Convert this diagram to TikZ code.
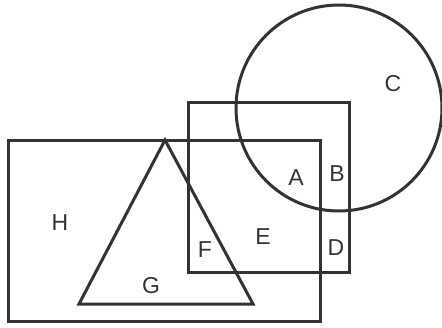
\documentclass[tikz,border=0pt]{standalone}
\usepackage{fontspec}
\setmainfont{Liberation Sans}
\usepackage{tikz}
\usetikzlibrary{positioning,calc}
\definecolor{inkgray}{HTML}{333333}
\tikzset{
  setline/.style={draw=inkgray,line width=3pt,line join=miter},
  setlbl/.style={font=\fontsize{23}{25}\selectfont,text=inkgray,inner sep=0pt},
}

\begin{document}
\begin{tikzpicture}[x=1pt,y=-1pt]
  \useasboundingbox (0,0) rectangle (442,327);
  % the sets
  \draw[setline] (8,140) rectangle (320,321);
  \draw[setline] (188,102) rectangle (349,272);
  \draw[setline] (339,108) circle[radius=103];
  \draw[setline] (165,140) -- (253,304) -- (79,304) -- cycle;
  % region labels
  \node[setlbl] (C) at (393,84) {C};
  \node[setlbl] (A) at (296,178) {A};
  \node[setlbl] (B) at (337,174) {B};
  \node[setlbl] (H) at (60,223) {H};
  \node[setlbl] (E) at (263,237) {E};
  \node[setlbl] (F) at (205,250) {F};
  \node[setlbl] (D) at (336,248) {D};
  \node[setlbl] (G) at (151,286) {G};
\end{tikzpicture}
\end{document}
